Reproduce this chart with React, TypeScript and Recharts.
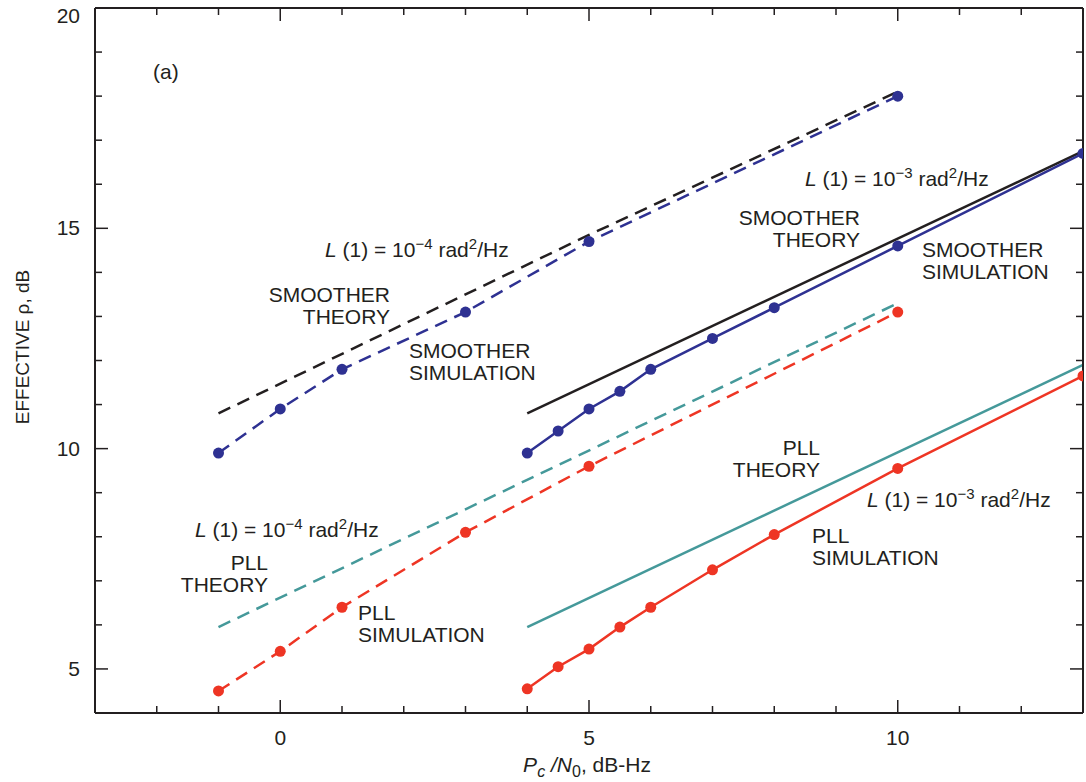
import { LineChart, Line, XAxis, YAxis } from 'recharts';

// colours
const INK = '#231f20';
const BLUE = '#2e3192';
const RED = '#ee3524';
const TEAL = '#45999a';
const FONT = '"Liberation Sans", Arial, Helvetica, sans-serif';

// smoother, L(1) = 1e-4
const smoothSim4X = [-1, 0, 1, 3, 5, 10];
const smoothSim4Y = [9.9, 10.9, 11.8, 13.1, 14.7, 18.0];
const smoothTh4X = [-1, 5, 10];
const smoothTh4Y = [10.8, 14.85, 18.1];

// smoother, L(1) = 1e-3
const smoothSim3X = [4, 4.5, 5, 5.5, 6, 7, 8, 10, 13];
const smoothSim3Y = [9.9, 10.4, 10.9, 11.3, 11.8, 12.5, 13.2, 14.6, 16.7];
const smoothTh3X = [4, 13];
const smoothTh3Y = [10.8, 16.75];

// PLL, L(1) = 1e-4
const pllSim4X = [-1, 0, 1, 3, 5, 10];
const pllSim4Y = [4.5, 5.4, 6.4, 8.1, 9.6, 13.1];
const pllTh4X = [-1, 10];
const pllTh4Y = [5.95, 13.3];

// PLL, L(1) = 1e-3
const pllSim3X = [4, 4.5, 5, 5.5, 6, 7, 8, 10, 13];
const pllSim3Y = [4.55, 5.05, 5.45, 5.95, 6.4, 7.25, 8.05, 9.55, 11.65];
const pllTh3X = [4, 13];
const pllTh3Y = [5.95, 11.9];

// axis ticks
const xTicks = [-2, -1, 0, 1, 2, 3, 4, 5, 6, 7, 8, 9, 10, 11, 12];
const xMajor = [0, 5, 10];
const yTicks = [5, 6, 7, 8, 9, 10, 11, 12, 13, 14, 15, 16, 17, 18, 19, 20];
const yMajor = [5, 10, 15, 20];

const pts = (xs: number[], ys: number[]) => xs.map((x, i) => ({ x, y: ys[i] }));

// inward tick marks, long on the major values
function makeTick(side: 'bottom' | 'top' | 'left' | 'right', major: number[], label: boolean) {
  return (props: any) => {
    const { x, y, payload } = props;
    const v = payload.value;
    const big = major.includes(v);
    const len = big ? 13 : 7;
    let line;
    if (side === 'bottom') line = <line x1={x} x2={x} y1={y} y2={y - len} stroke={INK} strokeWidth={1.5} />;
    else if (side === 'top') line = <line x1={x} x2={x} y1={y} y2={y + len} stroke={INK} strokeWidth={1.5} />;
    else if (side === 'left') line = <line x1={x} x2={x + len} y1={y} y2={y} stroke={INK} strokeWidth={1.5} />;
    else line = <line x1={x} x2={x - len} y1={y} y2={y} stroke={INK} strokeWidth={1.5} />;
    let txt = null;
    if (label && big && side === 'bottom') {
      txt = <text x={x} y={y + 32} textAnchor="middle" fontSize={21} fill={INK} fontFamily={FONT}>{v}</text>;
    }
    if (label && big && side === 'left') {
      txt = <text x={x - 15} y={Math.max(y + 7, 23)} textAnchor="end" fontSize={21} fill={INK} fontFamily={FONT}>{v}</text>;
    }
    return <g>{line}{txt}</g>;
  };
}

function LText({ x, y, exp }: { x: number; y: number; exp: string }) {
  return (
    <text x={x} y={y} fontSize={21} fill={INK} fontFamily={FONT}>
      <tspan fontStyle="italic">L</tspan>
      <tspan> (1) = 10</tspan>
      <tspan dy={-8} fontSize={15}>{exp}</tspan>
      <tspan dy={8}> rad</tspan>
      <tspan dy={-8} fontSize={15}>2</tspan>
      <tspan dy={8}>/Hz</tspan>
    </text>
  );
}

function Two({ x, y, a, b, anchor }: { x: number; y: number; a: string; b: string; anchor: 'start' | 'end' }) {
  return (
    <text fontSize={21} fill={INK} fontFamily={FONT} textAnchor={anchor}>
      <tspan x={x} y={y}>{a}</tspan>
      <tspan x={x} y={y + 22}>{b}</tspan>
    </text>
  );
}

export default function App() {
  const axisLine = { stroke: INK, strokeWidth: 2 };
  const dot = (c: string) => ({ r: 5.5, fill: c, stroke: c, strokeWidth: 0 });

  return (
    <div style={{ position: 'absolute', left: 0, top: 0, width: 1086, height: 782, background: '#fff' }}>
      <LineChart width={1086} height={782} margin={{ top: 0, right: 0, bottom: 0, left: 35 }}>
        <XAxis xAxisId="b" type="number" dataKey="x" domain={[-3, 13]} ticks={xTicks} interval={0}
          height={69} tickSize={0} tickMargin={0} tickLine={false} axisLine={axisLine}
          tick={makeTick('bottom', xMajor, true)} allowDataOverflow />
        <XAxis xAxisId="t" orientation="top" type="number" dataKey="x" domain={[-3, 13]} ticks={xTicks} interval={0}
          height={8} tickSize={0} tickMargin={0} tickLine={false} axisLine={axisLine}
          tick={makeTick('top', xMajor, false)} allowDataOverflow />
        <YAxis yAxisId="l" type="number" domain={[4, 20]} ticks={yTicks} interval={0}
          width={60} tickSize={0} tickMargin={0} tickLine={false} axisLine={axisLine}
          tick={makeTick('left', yMajor, true)} allowDataOverflow />
        <YAxis yAxisId="r" orientation="right" type="number" domain={[4, 20]} ticks={yTicks} interval={0}
          width={3} tickSize={0} tickMargin={0} tickLine={false} axisLine={axisLine}
          tick={makeTick('right', yMajor, false)} allowDataOverflow />

        <Line xAxisId="b" yAxisId="l" data={pts(smoothTh4X, smoothTh4Y)} dataKey="y" stroke={INK}
          strokeWidth={2.5} strokeDasharray="13 8" dot={false} isAnimationActive={false} />
        <Line xAxisId="b" yAxisId="l" data={pts(smoothSim4X, smoothSim4Y)} dataKey="y" stroke={BLUE}
          strokeWidth={2.5} strokeDasharray="13 8" dot={dot(BLUE)} isAnimationActive={false} />
        <Line xAxisId="b" yAxisId="l" data={pts(smoothTh3X, smoothTh3Y)} dataKey="y" stroke={INK}
          strokeWidth={2.5} dot={false} isAnimationActive={false} />
        <Line xAxisId="b" yAxisId="l" data={pts(smoothSim3X, smoothSim3Y)} dataKey="y" stroke={BLUE}
          strokeWidth={2.5} dot={dot(BLUE)} isAnimationActive={false} />
        <Line xAxisId="b" yAxisId="l" data={pts(pllTh4X, pllTh4Y)} dataKey="y" stroke={TEAL}
          strokeWidth={2.5} strokeDasharray="13 8" dot={false} isAnimationActive={false} />
        <Line xAxisId="b" yAxisId="l" data={pts(pllSim4X, pllSim4Y)} dataKey="y" stroke={RED}
          strokeWidth={2.5} strokeDasharray="13 8" dot={dot(RED)} isAnimationActive={false} />
        <Line xAxisId="b" yAxisId="l" data={pts(pllTh3X, pllTh3Y)} dataKey="y" stroke={TEAL}
          strokeWidth={2.5} dot={false} isAnimationActive={false} />
        <Line xAxisId="b" yAxisId="l" data={pts(pllSim3X, pllSim3Y)} dataKey="y" stroke={RED}
          strokeWidth={2.5} dot={dot(RED)} isAnimationActive={false} />
      </LineChart>

      <svg width={1086} height={782} style={{ position: 'absolute', left: 0, top: 0, pointerEvents: 'none' }}>
        {/* axis titles */}
        <text transform="translate(29,347) rotate(-90)" textAnchor="middle" fontSize={19} fill={INK} fontFamily={FONT}>
          EFFECTIVE ρ, dB
        </text>
        <text x={587} y={772} textAnchor="middle" fontSize={21} fill={INK} fontFamily={FONT}>
          <tspan fontStyle="italic">P</tspan>
          <tspan fontStyle="italic" fontSize={16} dy={5}>c</tspan>
          <tspan fontStyle="italic" dy={-5}> /N</tspan>
          <tspan fontSize={16} dy={5}>0</tspan>
          <tspan dy={-5}>, dB-Hz</tspan>
        </text>

        <text x={153} y={79} fontSize={21} fill={INK} fontFamily={FONT}>(a)</text>

        {/* smoother annotations */}
        <LText x={325} y={257} exp="−4" />
        <Two x={390} y={302} a="SMOOTHER" b="THEORY" anchor="end" />
        <Two x={409} y={358} a="SMOOTHER" b="SIMULATION" anchor="start" />
        <LText x={805} y={186} exp="−3" />
        <Two x={860} y={225} a="SMOOTHER" b="THEORY" anchor="end" />
        <Two x={922} y={257} a="SMOOTHER" b="SIMULATION" anchor="start" />

        {/* PLL annotations */}
        <Two x={820} y={455} a="PLL" b="THEORY" anchor="end" />
        <LText x={867} y={507} exp="−3" />
        <Two x={812} y={543} a="PLL" b="SIMULATION" anchor="start" />
        <LText x={195} y={537} exp="−4" />
        <Two x={268} y={570} a="PLL" b="THEORY" anchor="end" />
        <Two x={358} y={620} a="PLL" b="SIMULATION" anchor="start" />
      </svg>
    </div>
  );
}
